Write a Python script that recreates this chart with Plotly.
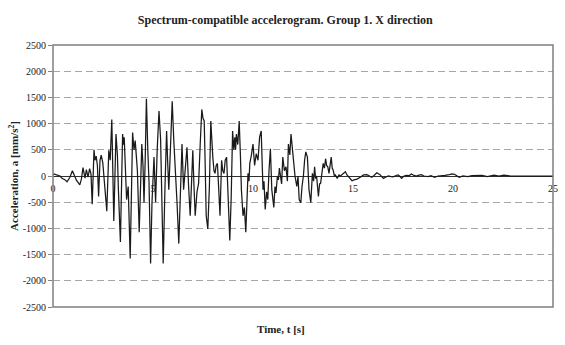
import plotly.graph_objects as go

time_s = [0.00, 0.05, 0.18, 0.35, 0.45, 0.59, 0.70, 0.84, 0.97, 1.08, 1.17, 1.34, 1.42, 1.50, 1.60, 1.67, 1.75, 1.83, 1.90,
          1.96, 2.05, 2.10, 2.16, 2.22, 2.28, 2.35, 2.41, 2.49, 2.57, 2.63, 2.69, 2.79, 2.86, 2.94, 3.04, 3.15, 3.22, 3.27,
          3.37, 3.48, 3.52, 3.56, 3.62, 3.68, 3.76, 3.86, 3.98, 4.05, 4.11, 4.17, 4.22, 4.31, 4.38, 4.44, 4.50, 4.55, 4.61,
          4.67, 4.74, 4.80, 4.88, 4.95, 5.05, 5.10, 5.13, 5.21, 5.30, 5.38, 5.45, 5.51, 5.60, 5.68, 5.73, 5.79, 5.87, 5.96,
          6.04, 6.12, 6.20, 6.29, 6.37, 6.45, 6.53, 6.62, 6.70, 6.78, 6.86, 6.93, 6.99, 7.05, 7.11, 7.20, 7.28, 7.36, 7.44,
          7.50, 7.56, 7.61, 7.66, 7.74, 7.82, 7.89, 7.94, 7.99, 8.05, 8.10, 8.16, 8.22, 8.28, 8.35, 8.43, 8.49, 8.55, 8.61,
          8.68, 8.76, 8.84, 8.91, 8.98, 9.04, 9.09, 9.13, 9.17, 9.24, 9.31, 9.37, 9.42, 9.50, 9.57, 9.64, 9.70, 9.75, 9.80,
          9.84, 9.92, 10.00, 10.08, 10.16, 10.25, 10.33, 10.41, 10.50, 10.55, 10.61, 10.68, 10.74, 10.80, 10.87, 10.94,
          11.04, 11.10, 11.15, 11.22, 11.27, 11.32, 11.37, 11.43, 11.49, 11.57, 11.65, 11.72, 11.77, 11.84, 11.90, 11.98,
          12.04, 12.10, 12.19, 12.25, 12.31, 12.39, 12.45, 12.52, 12.58, 12.64, 12.72, 12.80, 12.89, 12.97, 13.03, 13.08,
          13.13, 13.18, 13.27, 13.33, 13.38, 13.45, 13.51, 13.57, 13.63, 13.68, 13.74, 13.80, 13.86, 13.91, 13.96, 14.01,
          14.07, 14.12, 14.21, 14.30, 14.37, 14.45, 14.53, 14.62, 14.70, 14.79, 14.87, 14.95, 15.05, 15.20, 15.36, 15.53,
          15.69, 15.80, 15.94, 16.05, 16.19, 16.35, 16.52, 16.65, 16.77, 16.90, 17.01, 17.15, 17.26, 17.35, 17.43, 17.55,
          17.67, 17.80, 17.92, 18.05, 18.17, 18.30, 18.42, 18.55, 18.75, 18.90, 19.08, 19.25, 19.41, 19.60, 19.82, 19.95,
          20.07, 20.20, 20.31, 20.50, 20.73, 20.95, 21.22, 21.45, 21.72, 21.90, 22.05, 22.30, 22.54, 22.87, 23.50, 24.20,
          25.00]

accel_mm_s2 = [20, 40, 20, 0, -45, -70, -110, -30, 100, -20, -80, -170, -60, 160, -40, 120, -20, 140, 40,
               -540, 500, 300, 380, 200, -390, 300, 400, 250, -90, -300, -670, 490, 300, 1080, -860, 800, 400, -260,
               -1260, 800, 600, 740, 100, -450, -200, -1575, 830, 500, 675, 200, 100, -1075, -300, 610, 200, -510, 300,
               1475, 500, -100, -1670, -500, 360, -300, -500, 500, 1240, 700, -600, -1670, -200, 860, 300, -260, 500, 1425,
               675, 175, -500, -1290, -300, 610, -260, 200, 550, -200, -760, -100, 490, -200, -760, -300, -140, 600, 1270,
               1100, 1050, 200, -760, -1010, -200, 1050, 600, 360, 100, 50, 200, 240, -200, -760, 300, 100, 50, 300,
               360, -300, -1230, -400, 860, 500, 740, 500, 800, 600, 1050, 400, -260, -760, -600, -1075, -400, 50, -100,
               240, 400, 610, 200, 425, 300, 740, 860, -260, -100, -640, -300, -450, 100, 520, -260,
               -600, -200, -325, 0, -75, 150, 0, -150, 360, 100, 175, -100, 610, 400, 800, 425,
               200, 0, -200, 0, -450, -510, -200, 0, 300, 460, 360, -260, -510, 50, -100, 175,
               -50, 0, -390, -150, -140, 100, 240, 150, 330, 200, 175, 50, 250, 360, 150, 110,
               0, 20, -45, 20, 0, 30, 50, 80, 20, -25, -70, -90, -75, -60, -25, 20,
               25, 0, -25, 10, 63, 25, -45, -20, 0, -10, -15, 10, 20, -10, -44, 0,
               10, 5, 38, 10, 0, 15, 25, 0, -10, 5, -25, 0, 0, 10, 25, 40,
               32, 0, -25, 0, -10, 5, 0, 10, -10, 0, 15, 0, 15, 0, 0, 5,
               0]

y_tick_vals = [-2500, -2000, -1500, -1000, -500, 0, 500, 1000, 1500, 2000, 2500]
y_tick_text = ["-2500", "-2000", "-1500", "-1000", "-500", "0", "500", "1000", "1500", "2000", "2500"]
x_tick_vals = [0, 5, 10, 15, 20, 25]
x_tick_text = ["0", "5", "10", "15", "20", "25"]

FONT = "Liberation Serif"

fig = go.Figure()
fig.add_trace(go.Scatter(x=time_s, y=accel_mm_s2, mode="lines",
                         line=dict(color="#1a1a1a", width=1.25), showlegend=False, hoverinfo="skip"))

fig.update_layout(
    width=565, height=345,
    margin=dict(l=53, r=7, t=45, b=38),
    paper_bgcolor="white", plot_bgcolor="white",
    font=dict(family=FONT, size=10, color="#222"),
    title=dict(text="<b>Spectrum-compatible accelerogram. Group 1. X direction</b>",
               x=0.505, xanchor="center", y=1 - 20 / 345, yanchor="middle", yref="container",
               font=dict(family=FONT, size=12, color="#222")),
    xaxis=dict(range=[0, 25], anchor="free", position=0.5, tickvals=x_tick_vals, ticktext=x_tick_text,
               showgrid=False, zeroline=False, showline=False, ticks="", ticklabelstandoff=5,
               tickfont=dict(family=FONT, size=10, color="#222")),
    yaxis=dict(range=[-2500, 2500], tickvals=y_tick_vals, ticktext=y_tick_text,
               showgrid=True, gridcolor="#a6a6a6", griddash="7px,4px", gridwidth=1,
               zeroline=True, zerolinecolor="#303030", zerolinewidth=1.2,
               ticks="outside", ticklen=4, tickcolor="#808080",
               tickfont=dict(family=FONT, size=10, color="#222"),
               title=dict(text="<b>Acceleration, a [mm/s<sup>2</sup>]</b>", standoff=1,
                          font=dict(family=FONT, size=11, color="#222"))),
    shapes=[dict(type="rect", xref="x domain", yref="y domain", x0=0, x1=1, y0=0, y1=1,
                 line=dict(color="#7f7f7f", width=1.5), layer="above")],
    annotations=[dict(text="<b>Time, t [s]</b>", xref="paper", yref="paper", x=0.455, y=-0.084,
                      xanchor="center", yanchor="middle", showarrow=False,
                      font=dict(family=FONT, size=11, color="#222"))],
)

fig.write_html("out.html")
